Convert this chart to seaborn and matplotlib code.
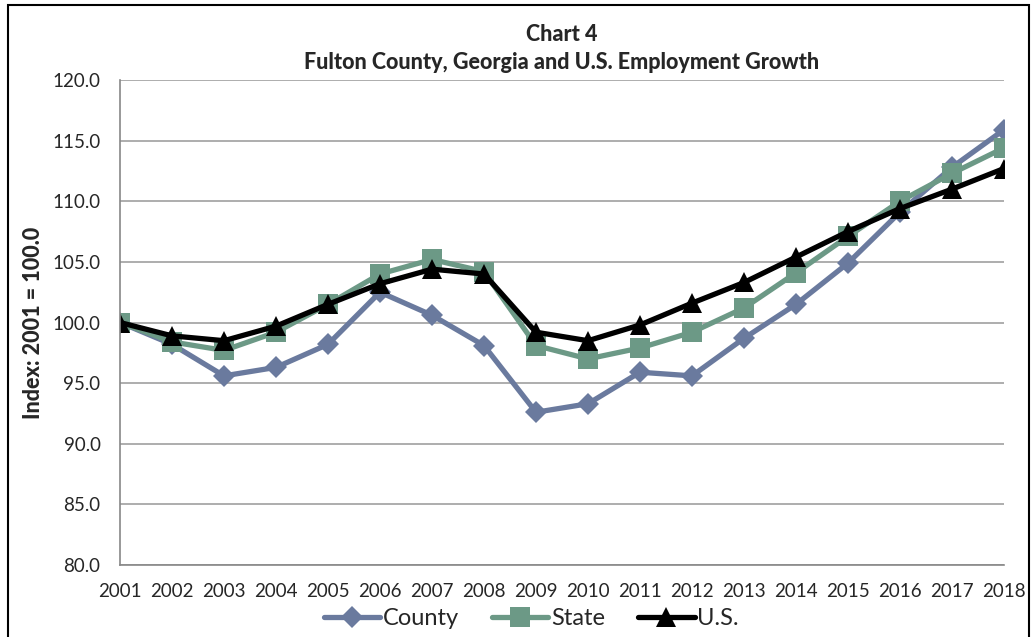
import matplotlib
matplotlib.use('Agg')
import matplotlib.pyplot as plt
import pandas as pd
import seaborn as sns

years = list(range(2001, 2019))
county = [100.0, 98.2, 95.6, 96.3, 98.2, 102.5, 100.6, 98.1, 92.6, 93.3,
          95.9, 95.6, 98.7, 101.5, 104.9, 109.1, 112.8, 115.9]
state = [100.0, 98.4, 97.7, 99.2, 101.5, 104.0, 105.2, 104.2, 98.1, 97.0,
         97.9, 99.2, 101.2, 104.1, 107.1, 110.0, 112.3, 114.4]
us = [100.0, 98.9, 98.5, 99.7, 101.5, 103.2, 104.4, 104.0, 99.2, 98.5,
      99.8, 101.6, 103.3, 105.4, 107.5, 109.4, 111.0, 112.7]
series_names = ['County', 'State', 'U.S.']

df = pd.DataFrame({'Year': years * 3,
                   'Index': county + state + us,
                   'Series': [s for s in series_names for _ in years]})

sns.set_style('white')
plt.rcParams['font.family'] = ['Lato', 'DejaVu Sans']

fig = plt.figure(figsize=(10.31, 6.37), dpi=100)
ax = fig.add_axes([0.1164, 0.113, 0.8574, 0.7614])

palette = {'County': '#6a7a9e', 'State': '#6c9986', 'U.S.': '#000000'}
markers = {'County': 'D', 'State': 's', 'U.S.': '^'}
sizes = {'County': 11, 'State': 14, 'U.S.': 14}

for name in series_names:
    sub = df[df['Series'] == name]
    sns.lineplot(data=sub, x='Year', y='Index', ax=ax, color=palette[name],
                 marker=markers[name], markersize=sizes[name], linewidth=3.8,
                 markeredgewidth=0, label=name)

ax.set_xlim(2001, 2018)
ax.set_ylim(80, 120)
ax.set_xticks(years)
ax.set_xticklabels([str(y) for y in years], fontsize=13.5)
ax.set_yticks([80 + 5 * i for i in range(9)])
ax.set_yticklabels(['%.1f' % (80 + 5 * i) for i in range(9)], fontsize=13.5)
ax.yaxis.grid(True, color='#a0a0a0', linewidth=1.2)
ax.xaxis.grid(False)
for side in ['top', 'right']:
    ax.spines[side].set_visible(False)
for side in ['left', 'bottom']:
    ax.spines[side].set_color('#888888')
    ax.spines[side].set_linewidth(1.2)
ax.tick_params(axis='x', length=0, pad=13)
ax.tick_params(axis='y', length=0, pad=14)
ax.set_xlabel('')
ax.set_ylabel('Index: 2001 = 100.0', fontsize=15.5, fontweight='black', labelpad=6)
ax.set_title('Chart 4\nFulton County, Georgia and U.S. Employment Growth',
             fontsize=15.5, fontweight='black', pad=8, linespacing=1.4)
ax.legend(loc='upper center', bbox_to_anchor=(0.465, -0.045), ncol=3, frameon=False,
          fontsize=17, handlelength=2.4, columnspacing=1.4, handletextpad=0.1)

fig.patches.append(plt.Rectangle((0.008, -0.01), 0.99, 1.002, transform=fig.transFigure,
                                 fill=False, edgecolor='black', linewidth=1.5))

fig.savefig('out.png', dpi=100)
